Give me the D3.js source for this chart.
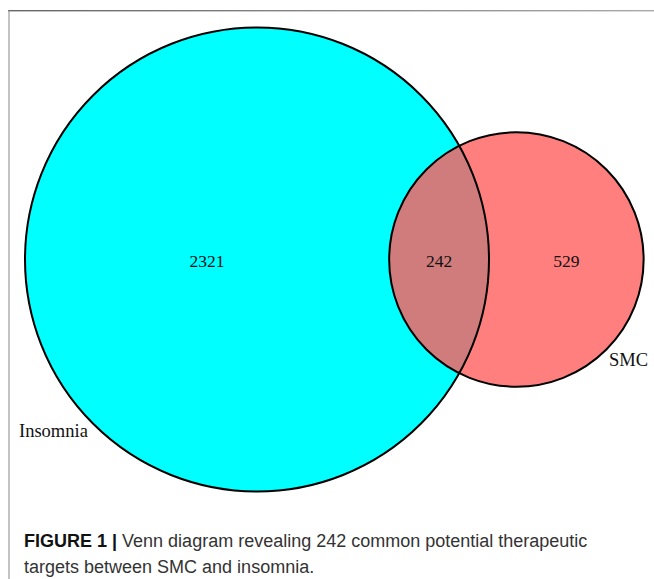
<!DOCTYPE html>
<html>
<head>
<meta charset="utf-8">
<script src="https://cdn.jsdelivr.net/npm/d3@7"></script>
<style>
  html, body { margin: 0; padding: 0; background: #fff; }
  svg { display: block; }
</style>
</head>
<body>
<svg id="chart" width="654" height="579"></svg>
<script>
// ---- data ----
const setNames = ["Insomnia", "SMC"];
const onlyCounts = [2321, 529];
const overlapCount = 242;
const captionBold = "FIGURE 1 |";
const captionLines = [
  "Venn diagram revealing 242 common potential therapeutic",
  "targets between SMC and insomnia."
];
const setColors = ["#00FFFF", "#FF7F7F"];
const overlapColor = "#D07C7C";

// ---- geometry ----
const totals = onlyCounts.map(c => c + overlapCount);
const rScale = d3.scaleSqrt().domain([0, totals[0]]).range([0, 232]);
const r1 = rScale(totals[0]), r2 = rScale(totals[1]);
const pxPerUnit = Math.PI * r1 * r1 / totals[0];
const targetArea = overlapCount * pxPerUnit;

function lensArea(d) {
  if (d >= r1 + r2) return 0;
  if (d <= Math.abs(r1 - r2)) return Math.PI * Math.min(r1, r2) ** 2;
  const a1 = Math.acos((d*d + r1*r1 - r2*r2) / (2*d*r1));
  const a2 = Math.acos((d*d + r2*r2 - r1*r1) / (2*d*r2));
  const k = Math.sqrt((-d+r1+r2)*(d+r1-r2)*(d-r1+r2)*(d+r1+r2));
  return r1*r1*a1 + r2*r2*a2 - 0.5*k;
}
let lo = Math.abs(r1 - r2), hi = r1 + r2;
for (let i = 0; i < 60; i++) {
  const mid = (lo + hi) / 2;
  if (lensArea(mid) > targetArea) lo = mid; else hi = mid;
}
const dist = (lo + hi) / 2;

const cx1 = 257, cy = 259.5;
const cx2 = cx1 + dist;
const ix = cx1 + (dist*dist + r1*r1 - r2*r2) / (2*dist);
const ih = Math.sqrt(r1*r1 - (ix - cx1) ** 2);

const svg = d3.select("#chart");

// frame
const grad = svg.append("defs").append("linearGradient")
  .attr("id", "topLine").attr("x1", "0").attr("x2", "1");
grad.append("stop").attr("offset", "0").attr("stop-color", "#666");
grad.append("stop").attr("offset", "1").attr("stop-color", "#aaa");
svg.append("rect").attr("x", 8).attr("y", 10).attr("width", 660).attr("height", 1.4)
  .attr("fill", "url(#topLine)");
svg.append("line").attr("x1", 9).attr("x2", 9).attr("y1", 10).attr("y2", 579)
  .attr("stroke", "#888").attr("stroke-width", 1);

// circles
const circles = [
  {cx: cx1, r: r1, fill: setColors[0]},
  {cx: cx2, r: r2, fill: setColors[1]}
];
svg.selectAll("circle.set").data(circles).join("circle")
  .attr("class", "set")
  .attr("cx", d => d.cx).attr("cy", cy).attr("r", d => d.r)
  .attr("fill", d => d.fill);

// overlap lens
const lens = `M${ix},${cy - ih} A${r2},${r2} 0 0 0 ${ix},${cy + ih} A${r1},${r1} 0 0 0 ${ix},${cy - ih} Z`;
svg.append("path").attr("d", lens).attr("fill", overlapColor);

// outlines
svg.selectAll("circle.outline").data(circles).join("circle")
  .attr("class", "outline")
  .attr("cx", d => d.cx).attr("cy", cy).attr("r", d => d.r)
  .attr("fill", "none").attr("stroke", "#000").attr("stroke-width", 2);

// region labels (midpoints along horizontal line through centres)
const leftA = cx1 - r1, leftB = cx2 - r2, rightA = cx1 + r1, rightB = cx2 + r2;
const regionLabels = [
  {x: (leftA + leftB) / 2, t: onlyCounts[0]},
  {x: (leftB + rightA) / 2, t: overlapCount},
  {x: (rightA + rightB) / 2, t: onlyCounts[1]}
];
svg.selectAll("text.num").data(regionLabels).join("text")
  .attr("class", "num")
  .attr("x", d => d.x).attr("y", cy + 7)
  .attr("text-anchor", "middle")
  .attr("font-family", "'Liberation Serif', 'Times New Roman', serif")
  .attr("font-size", 17.5).attr("fill", "#111")
  .text(d => d.t);

// set labels
const catPos = [
  {x: 19, y: 437, anchor: "start"},
  {x: 609, y: 366, anchor: "start"}
];
svg.selectAll("text.cat").data(setNames).join("text")
  .attr("class", "cat")
  .attr("x", (d, i) => catPos[i].x).attr("y", (d, i) => catPos[i].y)
  .attr("text-anchor", (d, i) => catPos[i].anchor)
  .attr("font-family", "'Liberation Serif', 'Times New Roman', serif")
  .attr("font-size", 18.5).attr("fill", "#111")
  .text(d => d);

// caption
const cap = svg.append("g")
  .attr("font-family", "'Liberation Sans', Arial, sans-serif")
  .attr("font-size", 18).attr("fill", "#333");
const l1 = cap.append("text").attr("x", 24).attr("y", 547);
l1.append("tspan").attr("font-weight", "bold").attr("fill", "#111").text(captionBold);
l1.append("tspan").text(" " + captionLines[0]);
cap.append("text").attr("x", 24).attr("y", 573).text(captionLines[1]);
</script>
</body>
</html>
